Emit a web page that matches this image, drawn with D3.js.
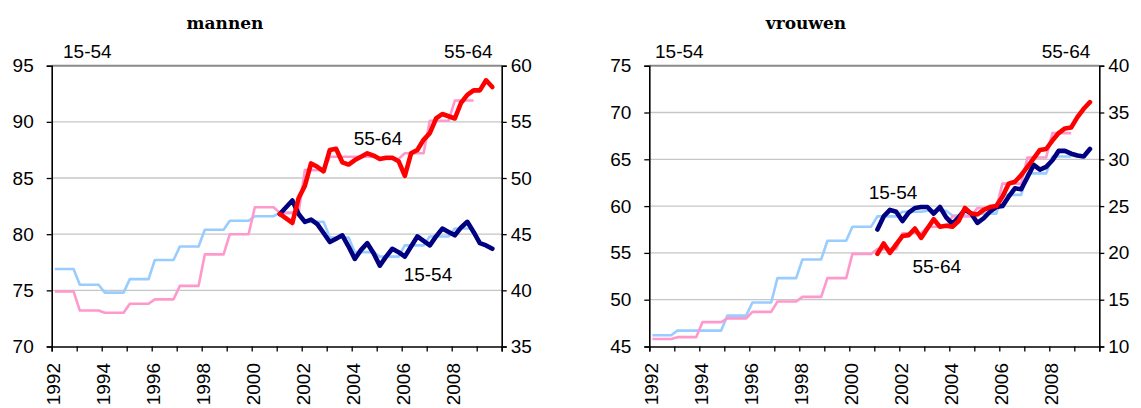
<!DOCTYPE html>
<html><head><meta charset="utf-8">
<script src="https://cdn.jsdelivr.net/npm/d3@7/dist/d3.min.js"></script>
<style>body{margin:0;background:#fff}svg{display:block}</style>
</head><body>
<svg id="chart" width="1141" height="408"></svg>
<script>
// ---- data ----
const years = [1992,1993,1994,1995,1996,1997,1998,1999,2000,2001,2002,2003,2004,2005,2006,2007,2008];
const quarters = ["2001Q1","2001Q2","2001Q3","2001Q4","2002Q1","2002Q2","2002Q3","2002Q4",
  "2003Q1","2003Q2","2003Q3","2003Q4","2004Q1","2004Q2","2004Q3","2004Q4",
  "2005Q1","2005Q2","2005Q3","2005Q4","2006Q1","2006Q2","2006Q3","2006Q4",
  "2007Q1","2007Q2","2007Q3","2007Q4","2008Q1","2008Q2","2008Q3","2008Q4",
  "2009Q1","2009Q2","2009Q3"];

// mannen
const menYear1554 = [76.9,75.5,74.8,76.0,77.7,78.9,80.4,81.2,81.6,81.9,81.1,79.7,78.4,78.0,79.0,79.8,80.5];
const menYear5564 = [39.9,38.2,38.0,38.8,39.2,40.4,43.2,45.0,47.4,46.9,50.7,51.9,51.9,51.7,52.2,55.1,56.9];
const menQ1554 = [81.8,82.4,83.0,81.8,81.1,81.3,80.9,80.1,79.3,79.6,79.9,78.9,77.8,78.6,79.2,78.3,
  77.2,78.0,78.7,78.4,78.0,78.9,79.8,79.4,79.0,79.8,80.5,80.2,79.9,80.6,81.1,80.2,79.2,79.0,78.7];
const menQ5564 = [46.8,46.4,46.0,48.2,49.3,51.3,51.0,50.6,52.5,52.6,51.4,51.2,51.6,51.9,52.2,52.0,
  51.7,51.8,51.8,51.5,50.2,52.2,52.5,53.4,54.0,55.3,55.7,55.5,55.3,56.7,57.4,57.8,57.8,58.7,58.1];

// vrouwen
const womenYear1554 = [46.2,46.7,46.7,48.3,49.7,52.3,54.3,56.3,57.8,58.9,59.4,59.5,59.0,59.2,61.2,63.5,65.3];
const womenYear5564 = [10.8,11.0,12.6,13.0,13.7,14.8,15.3,17.3,19.9,20.4,22.1,22.8,23.9,24.8,27.4,30.2,32.8];
const womenQ1554 = [57.5,58.9,59.6,59.4,58.4,59.3,59.8,59.9,59.9,59.2,59.9,58.8,58.1,58.8,59.6,59.2,
  58.2,58.7,59.4,59.9,60.0,61.0,61.9,61.8,63.1,64.4,63.9,64.2,64.9,65.9,65.9,65.6,65.4,65.3,66.1];
const womenQ5564 = [19.9,21.0,20.0,20.9,21.8,21.9,22.6,21.6,22.6,23.6,22.8,22.9,22.8,23.4,24.8,24.2,
  24.1,24.6,24.9,25.0,26.0,27.4,27.6,28.3,29.2,30.1,31.0,31.1,32.0,32.8,33.3,33.4,34.5,35.4,36.1];

const xTickYears = [1992,1993,1994,1995,1996,1997,1998,1999,2000,2001,2002,2003,2004,2005,2006,2007,2008,2009,2010];
const xLabelYears = [1992,1994,1996,1998,2000,2002,2004,2006,2008];
const menLeftTicks = [70,75,80,85,90,95];
const menRightTicks = [35,40,45,50,55,60];
const womenLeftTicks = [45,50,55,60,65,70,75];
const womenRightTicks = [10,15,20,25,30,35,40];
const groupLabels = ["15-54","55-64"];
const titles = ["mannen","vrouwen"];

// ---- drawing ----
const svg = d3.select("#chart");
const FONT = "'Liberation Sans', Arial, sans-serif";
const TOP = 65.7, BOTTOM = 346.5;

const qTime = q => +q.slice(0,4) + (+q.slice(5) - 0.5) / 4;

const panels = [
  {x0:51.7, x1:501.7, title:titles[0], titleX:225,
   leftDomain:[70,95], rightDomain:[35,60], leftTicks:menLeftTicks, rightTicks:menRightTicks,
   y1554:menYear1554, y5564:menYear5564, q1554:menQ1554, q5564:menQ5564,
   topLeftX:63, lab1554:[2007.05,75.8], lab5564:[2005.05,52.9]},
  {x0:649.3, x1:1099.3, title:titles[1], titleX:806,
   leftDomain:[45,75], rightDomain:[10,40], leftTicks:womenLeftTicks, rightTicks:womenRightTicks,
   y1554:womenYear1554, y5564:womenYear5564, q1554:womenQ1554, q5564:womenQ5564,
   topLeftX:655, lab1554:[2001.75,60.8], lab5564:[2003.5,17.9]}
];

panels.forEach(p => {
  const g = svg.append("g");
  const x = d3.scaleLinear().domain([1992,2010]).range([p.x0,p.x1]);
  const yL = d3.scaleLinear().domain(p.leftDomain).range([BOTTOM,TOP]);
  const yR = d3.scaleLinear().domain(p.rightDomain).range([BOTTOM,TOP]);

  // gridlines
  g.append("g").selectAll("line").data(p.leftTicks.slice(1,-1)).join("line")
    .attr("x1",p.x0).attr("x2",p.x1).attr("y1",d=>yL(d)).attr("y2",d=>yL(d))
    .attr("stroke","#c6c6c6").attr("stroke-width",1.3);
  // top border
  g.append("line").attr("x1",p.x0).attr("x2",p.x1).attr("y1",TOP).attr("y2",TOP)
    .attr("stroke","#8a8a8a").attr("stroke-width",2);

  // axes
  const axL = d3.axisLeft(yL).tickValues(p.leftTicks).tickSize(5).tickPadding(13).tickFormat(d3.format("d"));
  const axR = d3.axisRight(yR).tickValues(p.rightTicks).tickSize(5).tickPadding(4).tickFormat(d3.format("d"));
  const axB = d3.axisBottom(x).tickValues(xTickYears).tickSize(5).tickFormat("");
  [[axL,`translate(${p.x0},0)`],[axR,`translate(${p.x1},0)`],[axB,`translate(0,${BOTTOM})`]].forEach(([ax,tr])=>{
    const a = g.append("g").attr("transform",tr).call(ax);
    a.select(".domain").attr("stroke","#000").attr("stroke-width",1.6);
    a.selectAll(".tick line").attr("stroke","#000").attr("stroke-width",1.3);
    a.selectAll("text").attr("font-family",FONT).attr("font-size",19).attr("fill","#000");
  });

  // x labels rotated
  g.append("g").selectAll("text").data(xLabelYears).join("text")
    .attr("transform",d=>`translate(${x(d)+2},363) rotate(-90)`)
    .attr("text-anchor","end").attr("dy","0.35em")
    .attr("font-family",FONT).attr("font-size",19).text(d=>d);

  // annual step series (each year's value held over its four quarters)
  const stepPts = vals => vals.flatMap((v,i)=>[[years[i]+0.125,v],[years[i]+0.875,v]]);
  const lineL = d3.line().x(d=>x(d[0])).y(d=>yL(d[1]));
  const lineR = d3.line().x(d=>x(d[0])).y(d=>yR(d[1]));
  g.append("path").attr("d",lineL(stepPts(p.y1554))).attr("fill","none")
    .attr("stroke","#99ccff").attr("stroke-width",2.6).attr("stroke-linejoin","round");
  g.append("path").attr("d",lineR(stepPts(p.y5564))).attr("fill","none")
    .attr("stroke","#ff99cc").attr("stroke-width",2.6).attr("stroke-linejoin","round");

  // quarterly series
  const qPts = vals => vals.map((v,i)=>[qTime(quarters[i]),v]);
  g.append("path").attr("d",lineL(qPts(p.q1554))).attr("fill","none")
    .attr("stroke","#000080").attr("stroke-width",4.6).attr("stroke-linejoin","round").attr("stroke-linecap","round");
  g.append("path").attr("d",lineR(qPts(p.q5564))).attr("fill","none")
    .attr("stroke","#ff0000").attr("stroke-width",4.6).attr("stroke-linejoin","round").attr("stroke-linecap","round");

  // labels
  const txt = (tx,ty,s,anchor)=>g.append("text").attr("x",tx).attr("y",ty).attr("text-anchor",anchor)
    .attr("font-family",FONT).attr("font-size",19).attr("fill","#000").text(s);
  txt(p.topLeftX,58,groupLabels[0],"start");
  txt(p.x1-9,58,groupLabels[1],"end");
  txt(x(p.lab1554[0]),yL(p.lab1554[1]),groupLabels[0],"middle");
  txt(x(p.lab5564[0]),yR(p.lab5564[1]),groupLabels[1],"middle");

  g.append("text").attr("x",p.titleX).attr("y",29).attr("text-anchor","middle")
    .attr("font-family","'DejaVu Serif',serif").attr("font-weight","bold")
    .attr("font-size",17).text(p.title);
});
</script>
</body></html>
